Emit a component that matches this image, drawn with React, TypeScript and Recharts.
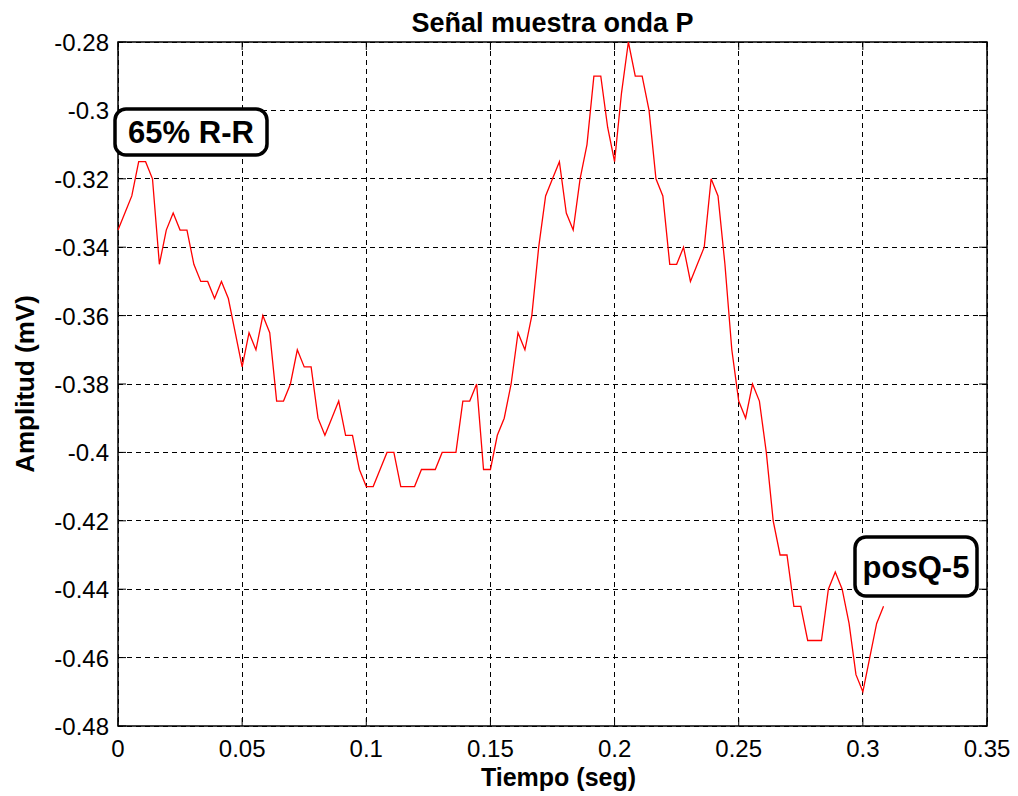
import React from 'react';
import { LineChart, Line, XAxis, YAxis, CartesianGrid, ReferenceArea } from 'recharts';

// sampling rate of the record (Hz)
const FS = 360;

// amplitude samples (mV)
const amplitude = [
  -0.335, -0.33, -0.325, -0.315, -0.315, -0.32, -0.345, -0.335, -0.33, -0.335,
  -0.335, -0.345, -0.35, -0.35, -0.355, -0.35, -0.355, -0.365, -0.375, -0.365,
  -0.37, -0.36, -0.365, -0.385, -0.385, -0.38, -0.37, -0.375, -0.375, -0.39,
  -0.395, -0.39, -0.385, -0.395, -0.395, -0.405, -0.41, -0.41, -0.405, -0.4,
  -0.4, -0.41, -0.41, -0.41, -0.405, -0.405, -0.405, -0.4, -0.4, -0.4,
  -0.385, -0.385, -0.38, -0.405, -0.405, -0.395, -0.39, -0.38, -0.365, -0.37,
  -0.36, -0.34, -0.325, -0.32, -0.315, -0.33, -0.335, -0.32, -0.31, -0.29,
  -0.29, -0.305, -0.315, -0.295, -0.28, -0.29, -0.29, -0.3, -0.32, -0.325,
  -0.345, -0.345, -0.34, -0.35, -0.345, -0.34, -0.32, -0.325, -0.345, -0.37,
  -0.385, -0.39, -0.38, -0.385, -0.4, -0.42, -0.43, -0.43, -0.445, -0.445,
  -0.455, -0.455, -0.455, -0.44, -0.435, -0.44, -0.45, -0.465, -0.47, -0.46,
  -0.45, -0.445,
];

const xTicks = [0, 0.05, 0.1, 0.15, 0.2, 0.25, 0.3, 0.35];
const xTickLabels = ['0', '0.05', '0.1', '0.15', '0.2', '0.25', '0.3', '0.35'];
const yTicks = [-0.48, -0.46, -0.44, -0.42, -0.4, -0.38, -0.36, -0.34, -0.32, -0.3, -0.28];
const yTickLabels = ['-0.48', '-0.46', '-0.44', '-0.42', '-0.4', '-0.38', '-0.36', '-0.34', '-0.32', '-0.3', '-0.28'];

const data = amplitude.map((v, i) => ({ t: i / FS, v }));

const W = 1018;
const H = 796;
const LEFT = 118;
const RIGHT = 987;
const TOP = 42;
const BOTTOM = 726;
const FONT = '"Liberation Sans", Arial, sans-serif';
const TICK_LEN = 8;

function XTick(props: any) {
  const { x, index } = props;
  return (
    <g>
      <line x1={x} x2={x} y1={BOTTOM} y2={BOTTOM - TICK_LEN} stroke="#000" />
      <line x1={x} x2={x} y1={TOP} y2={TOP + TICK_LEN} stroke="#000" />
      <text x={x} y={BOTTOM + 31} textAnchor="middle" fontSize={24} fontFamily={FONT} fill="#000">
        {xTickLabels[index]}
      </text>
    </g>
  );
}

function YTick(props: any) {
  const { y, index } = props;
  return (
    <g>
      <line x1={LEFT} x2={LEFT + TICK_LEN} y1={y} y2={y} stroke="#000" />
      <line x1={RIGHT} x2={RIGHT - TICK_LEN} y1={y} y2={y} stroke="#000" />
      <text x={109} y={y + 9} textAnchor="end" fontSize={24} fontFamily={FONT} fill="#000">
        {yTickLabels[index]}
      </text>
    </g>
  );
}

function Box({ x, y, w, h, label }: { x: number; y: number; w: number; h: number; label: string }) {
  return (
    <g>
      <rect x={x} y={y} width={w} height={h} rx={11} ry={11} fill="#fff" stroke="#000" strokeWidth={3.5} />
      <text x={x + w / 2} y={y + h / 2 + 11} textAnchor="middle" fontSize={31} fontWeight="bold" fontFamily={FONT} fill="#000">
        {label}
      </text>
    </g>
  );
}

export default function App() {
  return (
    <div style={{ position: 'absolute', left: 0, top: 0, width: W, height: H, background: '#fff' }}>
      <style>{`.recharts-cartesian-grid line { shape-rendering: crispEdges; }`}</style>
      <LineChart
        width={W}
        height={H}
        data={data}
        margin={{ top: TOP, right: W - RIGHT, bottom: 0, left: 0 }}
      >
        <CartesianGrid stroke="#000" strokeDasharray="5 4" />
        <XAxis
          dataKey="t"
          type="number"
          domain={[0, 0.35]}
          ticks={xTicks}
          interval={0}
          height={H - BOTTOM}
          axisLine={false}
          tickLine={false}
          tick={<XTick />}
        />
        <YAxis
          type="number"
          domain={[-0.48, -0.28]}
          ticks={yTicks}
          interval={0}
          width={LEFT}
          axisLine={false}
          tickLine={false}
          tick={<YTick />}
        />
        <ReferenceArea x1={0} x2={0.35} y1={-0.48} y2={-0.28} fill="none" stroke="#000" strokeWidth={1.5} />
        <Line
          type="linear"
          dataKey="v"
          stroke="#ff0000"
          strokeWidth={1.3}
          dot={false}
          isAnimationActive={false}
        />
      </LineChart>
      <svg width={W} height={H} style={{ position: 'absolute', left: 0, top: 0, pointerEvents: 'none' }}>
        <text x={(LEFT + RIGHT) / 2} y={32} textAnchor="middle" fontSize={27} fontWeight="bold" fontFamily={FONT}>
          Señal muestra onda P
        </text>
        <text x={(LEFT + RIGHT) / 2 + 6} y={786} textAnchor="middle" fontSize={25} fontWeight="bold" fontFamily={FONT}>
          Tiempo (seg)
        </text>
        <text
          transform={`translate(34, ${(TOP + BOTTOM) / 2}) rotate(-90)`}
          textAnchor="middle"
          fontSize={26}
          fontWeight="bold"
          fontFamily={FONT}
        >
          Amplitud (mV)
        </text>
        <Box x={115} y={109} w={152} h={46} label="65% R-R" />
        <Box x={855} y={537} w={122} h={59} label="posQ-5" />
      </svg>
    </div>
  );
}
